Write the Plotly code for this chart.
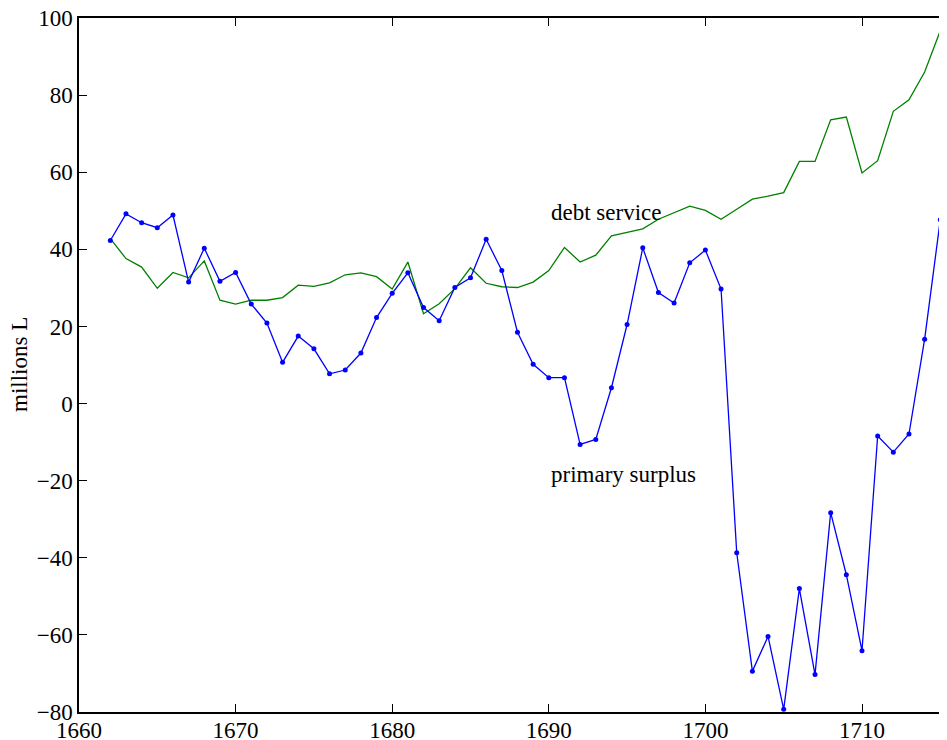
import plotly.graph_objects as go

years = list(range(1662, 1716))

primary_surplus = [
    42.3, 49.2, 46.9, 45.6, 48.9, 31.5, 40.3, 31.7, 34.0, 25.8,
    20.9, 10.7, 17.5, 14.2, 7.7, 8.7, 13.1, 22.3, 28.6, 33.9,
    24.9, 21.5, 30.1, 32.6, 42.6, 34.5, 18.5, 10.2, 6.7, 6.7,
    -10.6, -9.3, 4.1, 20.5, 40.4, 28.8, 26.1, 36.5, 39.8, 29.7,
    -38.7, -69.4, -60.4, -79.3, -48.0, -70.3, -28.3, -44.4, -64.1, -8.4,
    -12.6, -7.9, 16.7, 47.7,
]

debt_service = [
    42.8, 37.6, 35.4, 29.9, 34.0, 32.6, 37.0, 26.8, 25.8, 26.8,
    26.8, 27.5, 30.7, 30.4, 31.3, 33.4, 33.9, 32.9, 29.7, 36.7,
    23.3, 25.9, 29.8, 35.2, 31.2, 30.3, 30.1, 31.5, 34.5, 40.5,
    36.7, 38.5, 43.5, 44.3, 45.3, 47.8, 49.5, 51.2, 50.1, 47.8,
    50.4, 53.0, 53.8, 54.7, 62.8, 62.8, 73.6, 74.3, 59.8, 63.0,
    75.8, 78.8, 86.0, 96.7,
]

x_ticks = [1660, 1670, 1680, 1690, 1700, 1710]
y_ticks = [-80, -60, -40, -20, 0, 20, 40, 60, 80, 100]
y_tick_labels = [("\u2212" + str(-v)) if v < 0 else str(v) for v in y_ticks]

FONT = "Liberation Serif, Times New Roman, serif"
FS = 23

fig = go.Figure()
fig.add_trace(go.Scatter(
    x=years, y=debt_service, mode="lines",
    line=dict(color="rgb(0,128,0)", width=1.3),
    showlegend=False, hoverinfo="skip",
))
fig.add_trace(go.Scatter(
    x=years, y=primary_surplus, mode="lines+markers",
    line=dict(color="rgb(0,0,255)", width=1.3),
    marker=dict(color="rgb(0,0,255)", size=5),
    showlegend=False, hoverinfo="skip",
))

fig.add_annotation(x=1690, y=49.6, text="debt service", showarrow=False,
                   xanchor="left", yanchor="middle",
                   font=dict(family=FONT, size=FS, color="black"))
fig.add_annotation(x=1690, y=-18.4, text="primary surplus", showarrow=False,
                   xanchor="left", yanchor="middle",
                   font=dict(family=FONT, size=FS, color="black"))
# y-axis title
fig.add_annotation(xref="paper", yref="paper", x=0, y=0.5, xshift=-60,
                   text="millions L", textangle=-90, showarrow=False,
                   xanchor="center", yanchor="middle",
                   font=dict(family=FONT, size=FS, color="black"))

fig.update_layout(
    template="none",
    width=939, height=732,
    margin=dict(l=71, r=0, t=10, b=28, autoexpand=False),
    paper_bgcolor="white", plot_bgcolor="white",
    font=dict(family=FONT, size=FS, color="black"),
    xaxis=dict(
        range=[1660, 1660 + 868 / 15.66],
        tickvals=x_ticks, ticktext=[str(v) for v in x_ticks],
        ticks="inside", ticklen=8, tickwidth=1, tickcolor="black",
        showline=True, linecolor="black", linewidth=1.5,
        mirror="allticks", showgrid=False, zeroline=False,
        automargin=False, ticklabeloverflow="allow",
        ticklabelstandoff=-3,
        tickfont=dict(family=FONT, size=FS, color="black"),
    ),
    yaxis=dict(
        range=[-80, 100],
        tickvals=y_ticks, ticktext=y_tick_labels,
        ticks="inside", ticklen=8, tickwidth=1, tickcolor="black",
        showline=True, linecolor="black", linewidth=1.5,
        mirror=False, showgrid=False, zeroline=False,
        automargin=False, ticklabeloverflow="allow",
        tickfont=dict(family=FONT, size=FS, color="black"),
    ),
)

fig.write_html("out.html")
